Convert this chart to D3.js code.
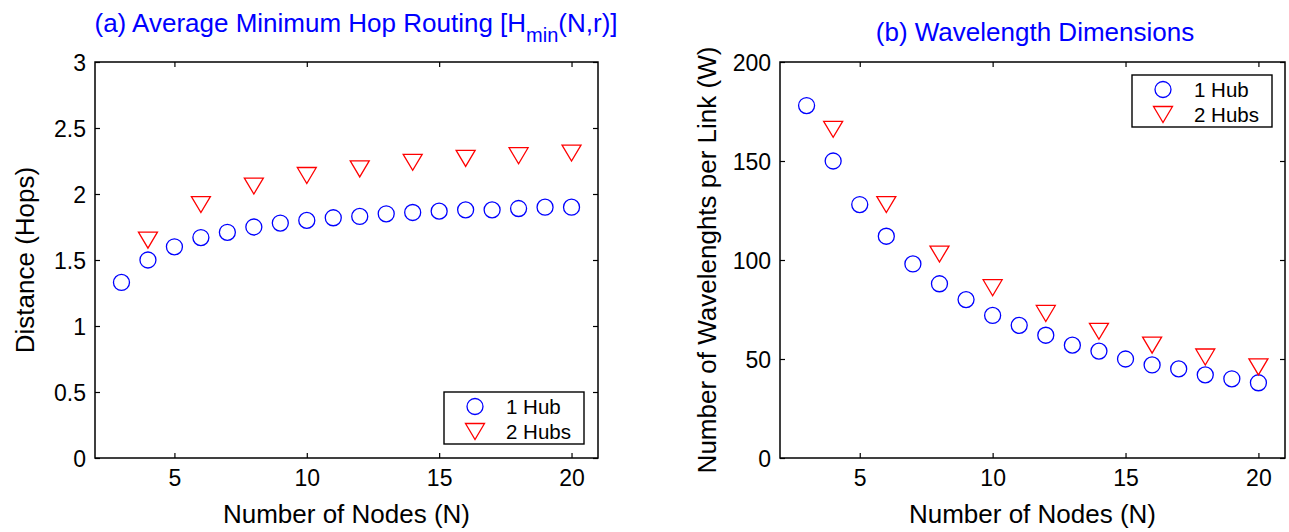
<!DOCTYPE html>
<html><head><meta charset="utf-8">
<script src="https://cdn.jsdelivr.net/npm/d3@7/dist/d3.min.js"></script>
<style>body{margin:0;background:#fff}svg{display:block}text{font-family:"Liberation Sans",Arial,sans-serif}</style>
</head><body>
<svg id="chart" width="1289" height="532"></svg>
<script>
// ---- data ----
const nodes1Hub = [3,4,5,6,7,8,9,10,11,12,13,14,15,16,17,18,19,20];
const hops1Hub  = [1.33,1.50,1.60,1.67,1.71,1.75,1.78,1.80,1.82,1.83,1.85,1.86,1.87,1.88,1.88,1.89,1.90,1.90];
const nodes2Hub = [4,6,8,10,12,14,16,18,20];
const hops2Hub  = [1.65,1.92,2.06,2.14,2.19,2.24,2.27,2.29,2.31];
const waves1Hub = [178,150,128,112,98,88,80,72,67,62,57,54,50,47,45,42,40,38];
const waves2Hub = [166,128,103,86,73,64,57,51,46];
const xTicks = [5,10,15,20];
const yTicksA = [0,0.5,1,1.5,2,2.5,3];
const yTickLabelsA = ["0","0.5","1","1.5","2","2.5","3"];
const yTicksB = [0,50,100,150,200];
const legendLabels = ["1 Hub","2 Hubs"];

const svg = d3.select("#chart");
const BLUE = "#0000ff", RED = "#ff0000";
const triPath = (w,h) => `M${-w/2},${-h/2}L${w/2},${-h/2}L0,${h/2}Z`;

function panel(opt){
  const {left,right,top,bottom,xDomain,yDomain,yTicks,yFmt,s1x,s1y,s2x,s2y,legendPos,yLabel,yLabelX} = opt;
  const x = d3.scaleLinear().domain(xDomain).range([left,right]);
  const y = d3.scaleLinear().domain(yDomain).range([bottom,top]);
  const g = svg.append("g");
  const tickLen = 5, fs = 23;

  const styleAxis = sel => {
    sel.select(".domain").remove();
    sel.selectAll(".tick line").attr("stroke","#000").attr("stroke-width",1.2);
    sel.selectAll(".tick text").attr("font-size",fs).attr("fill","#000").attr("font-family",'"Liberation Sans",Arial,sans-serif');
  };
  g.append("g").attr("transform",`translate(0,${bottom})`)
    .call(d3.axisBottom(x).tickValues(xTicks).tickSizeInner(-tickLen).tickSizeOuter(0).tickPadding(12))
    .call(styleAxis);
  g.append("g").attr("transform",`translate(0,${top})`)
    .call(d3.axisTop(x).tickValues(xTicks).tickSizeInner(-tickLen).tickSizeOuter(0).tickFormat(""))
    .call(styleAxis);
  g.append("g").attr("transform",`translate(${left},0)`)
    .call(d3.axisLeft(y).tickValues(yTicks).tickSizeInner(-tickLen).tickSizeOuter(0).tickPadding(9).tickFormat(yFmt))
    .call(styleAxis)
    .selectAll(".tick text").attr("dy","0.36em");
  g.append("g").attr("transform",`translate(${right},0)`)
    .call(d3.axisRight(y).tickValues(yTicks).tickSizeInner(-tickLen).tickSizeOuter(0).tickFormat(""))
    .call(styleAxis);
  g.append("rect").attr("x",left).attr("y",top).attr("width",right-left).attr("height",bottom-top)
    .attr("fill","none").attr("stroke","#000").attr("stroke-width",1.5);

  g.append("g").selectAll("circle").data(s1x).join("circle")
    .attr("cx",d=>x(d)).attr("cy",(d,i)=>y(s1y[i])).attr("r",8)
    .attr("fill","none").attr("stroke",BLUE).attr("stroke-width",1.3);
  g.append("g").selectAll("path").data(s2x).join("path")
    .attr("transform",(d,i)=>`translate(${x(d)},${y(s2y[i])})`)
    .attr("d",triPath(19,16)).attr("fill","none").attr("stroke",RED).attr("stroke-width",1.3);

  // axis labels
  g.append("text").attr("x",(left+right)/2).attr("y",bottom+65).attr("text-anchor","middle")
    .attr("font-size",26).text("Number of Nodes (N)");
  g.append("text").attr("transform",`translate(${yLabelX},${(top+bottom)/2}) rotate(-90)`)
    .attr("text-anchor","middle").attr("font-size",26).text(yLabel);

  // legend
  const [lx,ly] = legendPos, lw = 140, lh = 52;
  const lg = g.append("g").attr("transform",`translate(${lx},${ly})`);
  lg.append("rect").attr("width",lw).attr("height",lh).attr("fill","#fff").attr("stroke","#000").attr("stroke-width",1.4);
  lg.append("circle").attr("cx",31).attr("cy",14.5).attr("r",8).attr("fill","none").attr("stroke",BLUE).attr("stroke-width",1.3);
  lg.append("path").attr("transform","translate(31,39.5)").attr("d",triPath(19,16)).attr("fill","none").attr("stroke",RED).attr("stroke-width",1.3);
  lg.selectAll("text").data(legendLabels).join("text")
    .attr("x",62).attr("y",(d,i)=>22+i*25).attr("font-size",20.5).text(d=>d);
  return g;
}

panel({left:95,right:598,top:62,bottom:458,xDomain:[2,21],yDomain:[0,3],
  yTicks:yTicksA,yFmt:(d,i)=>yTickLabelsA[i],s1x:nodes1Hub,s1y:hops1Hub,s2x:nodes2Hub,s2y:hops2Hub,
  legendPos:[444,392],yLabel:"Distance (Hops)",yLabelX:34});
panel({left:780,right:1285,top:62,bottom:458,xDomain:[2,21],yDomain:[0,200],
  yTicks:yTicksB,yFmt:d=>String(d),s1x:nodes1Hub,s1y:waves1Hub,s2x:nodes2Hub,s2y:waves2Hub,
  legendPos:[1132,75],yLabel:"Number of Wavelenghts per Link (W)",yLabelX:716});

// titles
const t1 = svg.append("text").attr("x",356).attr("y",32).attr("text-anchor","middle")
  .attr("font-size",26).attr("fill",BLUE);
t1.append("tspan").text("(a) Average Minimum Hop Routing [H");
t1.append("tspan").attr("dy",10).attr("font-size",20).text("min");
t1.append("tspan").attr("dy",-10).text("(N,r)]");
svg.append("text").attr("x",1035).attr("y",41).attr("text-anchor","middle")
  .attr("font-size",26).attr("fill",BLUE).text("(b) Wavelength Dimensions");
</script>
</body></html>
